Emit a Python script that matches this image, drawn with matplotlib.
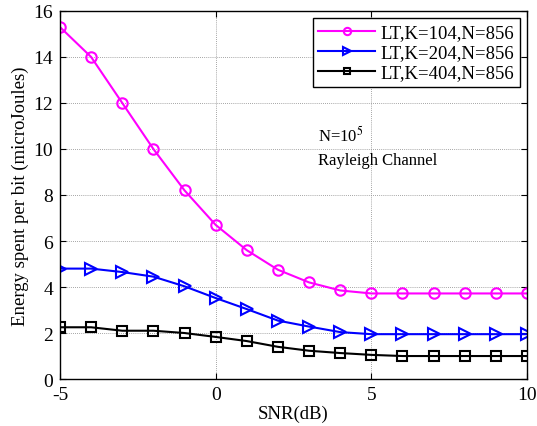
import numpy as np
import matplotlib.pyplot as plt
from matplotlib.ticker import FuncFormatter

plt.rcParams['font.family'] = ['Liberation Serif', 'DejaVu Serif']
plt.rcParams['mathtext.fontset'] = 'stix'

snr = [-5, -4, -3, -2, -1, 0, 1, 2, 3, 4, 5, 6, 7, 8, 9, 10]

# energy per bit (microJoules) for each code setting
energy_k104 = [15.3, 14.0, 12.0, 10.0, 8.2, 6.7, 5.6, 4.75, 4.2, 3.85, 3.72, 3.72, 3.72, 3.72, 3.72, 3.72]
energy_k204 = [4.8, 4.8, 4.65, 4.45, 4.03, 3.52, 3.04, 2.54, 2.28, 2.04, 1.95, 1.95, 1.95, 1.95, 1.95, 1.95]
energy_k404 = [2.25, 2.25, 2.1, 2.1, 2.0, 1.83, 1.65, 1.4, 1.23, 1.13, 1.05, 1.0, 1.0, 1.0, 1.0, 1.0]

labels = ['LT,K=104,N=856', 'LT,K=204,N=856', 'LT,K=404,N=856']

fig = plt.figure(figsize=(5.37, 4.27), dpi=100)
ax = fig.add_axes([0.1117, 0.110, 0.8697, 0.862])

ax.plot(snr, energy_k104, '-o', color='#ff00ff', lw=1.5, ms=7.5, mfc='none', mew=1.5, label=labels[0])
ax.plot(snr, energy_k204, '->', color='#0000ff', lw=1.5, ms=8, mfc='none', mew=1.5, label=labels[1])
ax.plot(snr, energy_k404, '-s', color='black', lw=1.5, ms=7, mfc='none', mew=1.5, label=labels[2])

ax.set_xlim(-5, 10)
ax.set_ylim(0, 16)
ax.set_xticks([-5, 0, 5, 10])
ax.set_yticks(np.arange(0, 17, 2))
# plain hyphen for negative tick labels
ax.xaxis.set_major_formatter(FuncFormatter(lambda v, p: '%d' % v))
ax.grid(True, linestyle=(0, (1, 1.5)), color='#888888', lw=0.6)
ax.tick_params(direction='in', top=True, right=True, labelsize=14, length=4, pad=5)
for s in ax.spines.values():
    s.set_linewidth(1.0)

ax.set_xlabel('SNR(dB)', fontsize=13.5, labelpad=1)
ax.set_ylabel('Energy spent per bit (microJoules)', fontsize=13.5, labelpad=3)

ax.text(3.3, 10.35, r'N=10$^5$', fontsize=12)
ax.text(3.3, 9.35, 'Rayleigh Channel', fontsize=12)

leg = ax.legend(loc='upper right', fontsize=13.5, frameon=True, fancybox=False,
                edgecolor='black', framealpha=1, borderpad=0.3, labelspacing=0.15,
                handlelength=3.0, handletextpad=0.3, borderaxespad=0.4, markerscale=0.7)
leg.get_frame().set_linewidth(1.0)

fig.savefig('out.png', dpi=100)
